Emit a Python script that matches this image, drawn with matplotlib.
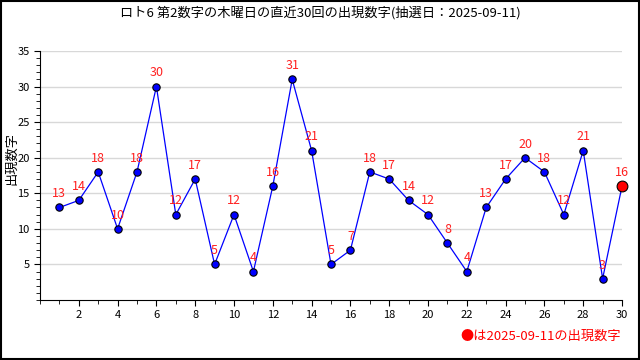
import matplotlib
matplotlib.use("Agg")
from matplotlib import pyplot as plt
from matplotlib.patches import Rectangle
from matplotlib.ticker import MultipleLocator

plt.rcParams['font.family'] = ['Noto Sans CJK JP', 'DejaVu Sans']

# draw numbers, oldest first
draws = list(range(1, 31))
numbers = [13, 14, 18, 10, 18, 30, 12, 17, 5, 12, 4, 16, 31, 21, 5,
           7, 18, 17, 14, 12, 8, 4, 13, 17, 20, 18, 12, 21, 3, 16]
latest_date = "2025-09-11"

fig = plt.figure(figsize=(6.4, 3.6), dpi=100)
ax = fig.add_axes([0.0625, 0.1667, 0.9094, 0.6917])

ax.plot(draws, numbers, color="#0000ff", lw=0.9, zorder=2)
ax.scatter(draws[:-1], numbers[:-1], s=28, color="#0000ff", edgecolors="black",
           linewidths=0.8, zorder=3)
ax.scatter(draws[-1:], numbers[-1:], s=60, color="#ff0000", edgecolors="black",
           linewidths=0.8, zorder=3, clip_on=False)

for x, y in zip(draws, numbers):
    ax.text(x, y + 1.0, str(y), color="#ff2020", fontsize=9,
            ha="center", va="bottom", zorder=4)

ax.set_xlim(0, 30)
ax.set_ylim(0, 35)
ax.set_xticks(range(2, 31, 2))
ax.xaxis.set_minor_locator(MultipleLocator(1))
ax.set_yticks(range(5, 36, 5))
ax.yaxis.set_minor_locator(MultipleLocator(1))
ax.tick_params(axis="both", which="major", length=4, labelsize=8, direction="out")
ax.tick_params(axis="both", which="minor", length=3, direction="out")
ax.grid(axis="y", color="#d8d8d8", lw=1)
ax.set_axisbelow(True)
for s in ["top", "right"]:
    ax.spines[s].set_visible(False)

fig.text(0.018, 0.56, "出現数字", rotation=90, ha="center", va="center", fontsize=9.5)
fig.text(0.5, 0.965, "ロト6 第2数字の木曜日の直近30回の出現数字(抽選日：" + latest_date + ")",
         ha="center", va="center", fontsize=9.5)
fig.text(0.97, 0.065, "●は" + latest_date + "の出現数字", color="#ff0000",
         ha="right", va="center", fontsize=9.5)

fig.patches.append(Rectangle((0.001, 0.002), 0.997, 0.996, transform=fig.transFigure,
                             fill=False, edgecolor="black", lw=1.5))

fig.savefig("out.png", dpi=100)
